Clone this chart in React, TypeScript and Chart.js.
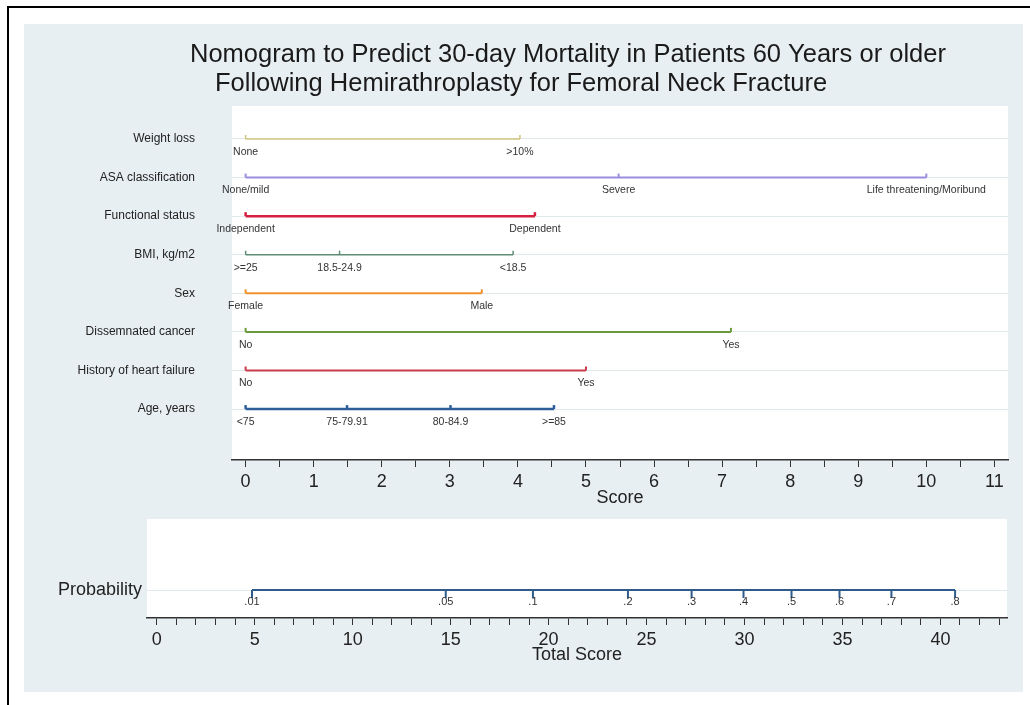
import React, { useEffect, useRef } from 'react';
import { Chart, registerables } from 'chart.js';

Chart.register(...registerables);

const FONT = "'Liberation Sans', Arial, Helvetica, sans-serif";
Chart.defaults.font.family = FONT;

// ---------- data ----------
const titleLines = [
  'Nomogram to Predict 30-day Mortality in Patients 60 Years or older',
  'Following Hemirathroplasty for Femoral Neck Fracture',
];

const rowNames = [
  'Weight loss',
  'ASA classification',
  'Functional status',
  'BMI, kg/m2',
  'Sex',
  'Dissemnated cancer',
  'History of heart failure',
  'Age, years',
];

const weightLossScores = [0, 4.03];
const weightLossLabels = ['None', '>10%'];
const asaScores = [0, 5.48, 10.0];
const asaLabels = ['None/mild', 'Severe', 'Life threatening/Moribund'];
const functionalScores = [0, 4.25];
const functionalLabels = ['Independent', 'Dependent'];
const bmiScores = [0, 1.38, 3.93];
const bmiLabels = ['>=25', '18.5-24.9', '<18.5'];
const sexScores = [0, 3.47];
const sexLabels = ['Female', 'Male'];
const cancerScores = [0, 7.13];
const cancerLabels = ['No', 'Yes'];
const heartFailureScores = [0, 5.0];
const heartFailureLabels = ['No', 'Yes'];
const ageScores = [0, 1.49, 3.01, 4.53];
const ageLabels = ['<75', '75-79.91', '80-84.9', '>=85'];

const rowScores = [
  weightLossScores, asaScores, functionalScores, bmiScores,
  sexScores, cancerScores, heartFailureScores, ageScores,
];
const rowPointLabels = [
  weightLossLabels, asaLabels, functionalLabels, bmiLabels,
  sexLabels, cancerLabels, heartFailureLabels, ageLabels,
];

const scoreTicks = [0, 0.5, 1, 1.5, 2, 2.5, 3, 3.5, 4, 4.5, 5, 5.5, 6, 6.5, 7, 7.5, 8, 8.5, 9, 9.5, 10, 10.5, 11];

const probabilityScores = [4.86, 14.75, 19.2, 24.05, 27.3, 29.95, 32.4, 34.85, 37.5, 40.75];
const probabilityLabels = ['.01', '.05', '.1', '.2', '.3', '.4', '.5', '.6', '.7', '.8'];
const totalScoreTicks = [
  0, 1, 2, 3, 4, 5, 6, 7, 8, 9, 10, 11, 12, 13, 14, 15, 16, 17, 18, 19, 20, 21,
  22, 23, 24, 25, 26, 27, 28, 29, 30, 31, 32, 33, 34, 35, 36, 37, 38, 39, 40, 41, 42, 43,
];

// ---------- styles ----------
const rowColors = ['#d2c47c', '#9a8ee0', '#d62040', '#5f8b77', '#f0922c', '#6b9a3c', '#c93c4c', '#2e5f9a'];
const rowWidths = [1.5, 2, 2.5, 1.5, 2, 2, 2, 2.5];
const probColor = '#2f5b8c';
const panelColor = '#e8eff2';
const gridColor = '#e2e9ed';
const axisColor = '#333333';
const textColor = '#222222';

// ---------- plugins ----------
const whiteAreaPlugin = {
  id: 'whiteArea',
  beforeDraw(chart: any) {
    const { ctx, chartArea } = chart;
    ctx.save();
    ctx.fillStyle = '#ffffff';
    ctx.fillRect(chartArea.left, chartArea.top, chartArea.right - chartArea.left, chartArea.bottom - chartArea.top);
    ctx.restore();
  },
};

const markerPlugin = {
  id: 'markers',
  afterDatasetsDraw(chart: any, _args: any, opts: any) {
    const ctx = chart.ctx;
    chart.data.datasets.forEach((ds: any, i: number) => {
      const meta = chart.getDatasetMeta(i);
      ctx.save();
      ctx.strokeStyle = ds.borderColor;
      ctx.lineWidth = ds.borderWidth;
      ctx.lineCap = 'butt';
      meta.data.forEach((el: any, j: number) => {
        ctx.beginPath();
        ctx.moveTo(el.x, el.y);
        ctx.lineTo(el.x, el.y + opts.tickDir * opts.tickLen);
        ctx.stroke();
        ctx.fillStyle = opts.labelColor;
        ctx.font = opts.labelFont;
        ctx.textAlign = 'center';
        ctx.textBaseline = 'middle';
        ctx.fillText(ds.pointLabels[j], el.x, el.y + opts.labelOffset);
      });
      ctx.restore();
    });
  },
};

const titlePlugin = {
  id: 'twoLineTitle',
  afterDraw(chart: any, _args: any, opts: any) {
    if (!opts || !opts.lines) return;
    const ctx = chart.ctx;
    ctx.save();
    ctx.font = opts.font;
    ctx.fillStyle = opts.color;
    ctx.textAlign = 'left';
    ctx.textBaseline = 'middle';
    opts.lines.forEach((l: any) => ctx.fillText(l.text, l.x, l.y));
    ctx.restore();
  },
};

export default function App() {
  const topRef = useRef<HTMLCanvasElement>(null);
  const botRef = useRef<HTMLCanvasElement>(null);

  useEffect(() => {
    const topChart = new Chart(topRef.current as HTMLCanvasElement, {
      type: 'scatter',
      data: {
        datasets: rowScores.map((scores, i) => ({
          label: rowNames[i],
          data: scores.map((x) => ({ x, y: i + 1 })),
          pointLabels: rowPointLabels[i],
          showLine: true,
          borderColor: rowColors[i],
          backgroundColor: rowColors[i],
          borderWidth: rowWidths[i],
          pointRadius: 0,
          pointHoverRadius: 0,
        })) as any,
      },
      options: {
        animation: false,
        responsive: false,
        events: [],
        layout: { padding: { top: 82, right: 15, left: 0, bottom: 0 } },
        plugins: {
          legend: { display: false },
          tooltip: { enabled: false },
          markers: { tickDir: -1, tickLen: 4, labelOffset: 13, labelColor: '#333333', labelFont: `10.5px ${FONT}` },
          twoLineTitle: {
            font: `25.5px ${FONT}`,
            color: '#1a1a1a',
            lines: [
              { text: titleLines[0], x: 166, y: 31 },
              { text: titleLines[1], x: 191, y: 60 },
            ],
          },
        } as any,
        scales: {
          x: {
            type: 'linear',
            min: -0.2,
            max: 11.2,
            afterBuildTicks: (scale: any) => {
              scale.ticks = scoreTicks.map((v) => ({ value: v }));
            },
            afterFit: (scale: any) => {
              scale.height = 54;
            },
            ticks: {
              autoSkip: false,
              maxRotation: 0,
              padding: 4,
              color: textColor,
              font: { size: 18 },
              callback: (v: any) => (Number.isInteger(v) ? String(v) : ''),
            },
            grid: { drawOnChartArea: false, drawTicks: true, tickLength: 7, color: axisColor, tickColor: axisColor, tickWidth: 1 },
            border: { display: true, color: axisColor, width: 1.5 },
            title: { display: true, text: 'Score', color: textColor, font: { size: 18 }, padding: { top: 0, bottom: 5 } },
          },
          y: {
            type: 'linear',
            reverse: true,
            min: 0.145,
            max: 9.32,
            afterBuildTicks: (scale: any) => {
              scale.ticks = rowNames.map((_, i) => ({ value: i + 1 }));
            },
            afterFit: (scale: any) => {
              scale.width = 208;
              scale.paddingTop = 0;
              scale.paddingBottom = 0;
            },
            ticks: {
              autoSkip: false,
              padding: 37,
              color: textColor,
              font: { size: 12 },
              callback: (v: any) => rowNames[Math.round(v) - 1] ?? '',
            },
            grid: { drawTicks: false, color: gridColor, lineWidth: 1 },
            border: { display: false },
          },
        },
      } as any,
      plugins: [whiteAreaPlugin, markerPlugin, titlePlugin],
    });

    const botChart = new Chart(botRef.current as HTMLCanvasElement, {
      type: 'scatter',
      data: {
        datasets: [
          {
            label: 'Probability',
            data: probabilityScores.map((x) => ({ x, y: 1 })),
            pointLabels: probabilityLabels,
            showLine: true,
            borderColor: probColor,
            backgroundColor: probColor,
            borderWidth: 2,
            pointRadius: 0,
            pointHoverRadius: 0,
          },
        ] as any,
      },
      options: {
        animation: false,
        responsive: false,
        events: [],
        layout: { padding: { top: 5, right: 16, left: 0, bottom: 0 } },
        plugins: {
          legend: { display: false },
          tooltip: { enabled: false },
          markers: { tickDir: 1, tickLen: 8, labelOffset: 12, labelColor: '#333333', labelFont: `11px ${FONT}` },
        } as any,
        scales: {
          x: {
            type: 'linear',
            min: -0.5,
            max: 43.4,
            afterBuildTicks: (scale: any) => {
              scale.ticks = totalScoreTicks.map((v) => ({ value: v }));
            },
            afterFit: (scale: any) => {
              scale.height = 74;
            },
            ticks: {
              autoSkip: false,
              maxRotation: 0,
              padding: 4,
              color: textColor,
              font: { size: 18 },
              callback: (v: any) => (v % 5 === 0 ? String(v) : ''),
            },
            grid: { drawOnChartArea: false, drawTicks: true, tickLength: 7, color: axisColor, tickColor: axisColor, tickWidth: 1 },
            border: { display: true, color: axisColor, width: 1.5 },
            title: { display: true, text: 'Total Score', color: textColor, font: { size: 18 }, padding: { top: 0, bottom: 26 } },
          },
          y: {
            type: 'linear',
            min: 0,
            max: 3.54,
            afterBuildTicks: (scale: any) => {
              scale.ticks = [{ value: 1 }];
            },
            afterFit: (scale: any) => {
              scale.width = 123;
              scale.paddingTop = 0;
              scale.paddingBottom = 0;
            },
            ticks: {
              autoSkip: false,
              padding: 5,
              color: textColor,
              font: { size: 18 },
              callback: () => 'Probability',
            },
            grid: { drawTicks: false, color: gridColor, lineWidth: 1 },
            border: { display: false },
          },
        },
      } as any,
      plugins: [whiteAreaPlugin, markerPlugin],
    });

    return () => {
      topChart.destroy();
      botChart.destroy();
    };
  }, []);

  return (
    <div style={{ position: 'fixed', left: 0, top: 0, width: 1030, height: 705, background: '#ffffff', overflow: 'hidden' }}>
      <div style={{ position: 'absolute', left: 7, top: 6, width: 1040, height: 720, borderTop: '2px solid #000', borderLeft: '2px solid #000' }} />
      <div style={{ position: 'absolute', left: 24, top: 24, width: 999, height: 668, background: panelColor }} />
      <canvas ref={topRef} width={999} height={490} style={{ position: 'absolute', left: 24, top: 24, display: 'block' }} />
      <canvas ref={botRef} width={999} height={178} style={{ position: 'absolute', left: 24, top: 514, display: 'block' }} />
    </div>
  );
}
